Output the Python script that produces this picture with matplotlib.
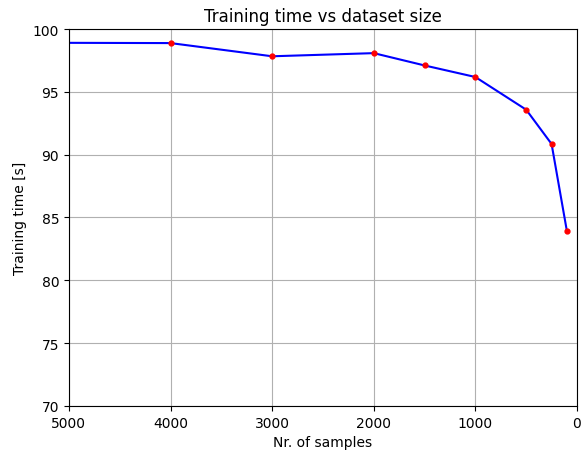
import matplotlib
matplotlib.use("Agg")
import matplotlib.pyplot as plt

# Данные
n_samples = [10000, 4000, 3000, 2000, 1500, 1000, 500, 250, 100]
train_time = [99.0, 98.88, 97.83, 98.08, 97.1, 96.18, 93.58, 90.85, 83.95]

x_ticks = [5000, 4000, 3000, 2000, 1000, 0]
y_ticks = [70, 75, 80, 85, 90, 95, 100]

fig = plt.figure(figsize=(5.84, 4.52), dpi=100)
ax = fig.add_axes([0.118, 0.0996, 0.870, 0.834])

ax.plot(n_samples, train_time, color='blue', linewidth=1.5)
ax.plot(n_samples, train_time, 'o', color='red', markersize=3.5, zorder=3)

ax.set_xlim(5000, 0)
ax.set_ylim(70, 100)
ax.set_xticks(x_ticks)
ax.set_yticks(y_ticks)
ax.grid(True, color='#b0b0b0', linewidth=0.8)

ax.set_title('Training time vs dataset size', fontsize=12)
ax.set_xlabel('Nr. of samples', fontsize=10)
ax.set_ylabel('Training time [s]', fontsize=10)
ax.tick_params(labelsize=10)

fig.savefig('out.png', dpi=100)
